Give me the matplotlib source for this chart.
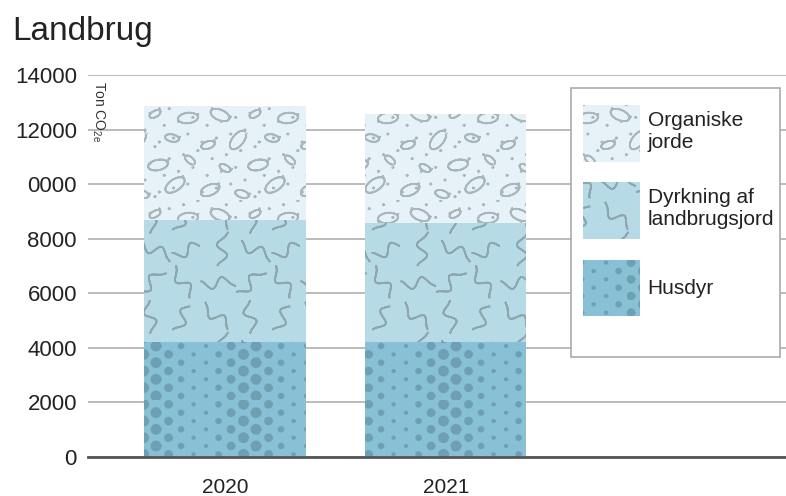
#!/usr/bin/env python3
import warnings
import numpy as np
import matplotlib
matplotlib.use("Agg")
import matplotlib.pyplot as plt
import matplotlib.hatch as mhatch
from matplotlib.path import Path
from matplotlib.patches import Rectangle

warnings.filterwarnings("ignore")

# data
years = ["2020", "2021"]
husdyr = [4220, 4220]
dyrkning = [4460, 4340]
organiske = [4180, 4000]
series_labels = ["Organiske\njorde", "Dyrkning af\nlandbrugsjord", "Husdyr"]
ytick_vals = [0, 2000, 4000, 6000, 8000, 10000, 12000, 14000]
ytick_labels = ["0", "2000", "4000", "6000", "8000", "0000", "12000", "14000"]


# --- custom hatch patterns (unit tile = 1 inch) ---
def there_and_back(pts):
    # polyline traced forward and back so the hatch fill adds no area
    pts = np.asarray(pts)
    return np.vstack([pts, pts[::-1]])


def ellipse(cx, cy, a, b, ang, n=32):
    t = np.linspace(0, 2 * np.pi, n)
    x, y = a * np.cos(t), b * np.sin(t)
    c, s = np.cos(ang), np.sin(ang)
    return np.column_stack([cx + c * x - s * y, cy + s * x + c * y])


def squiggle(cx, cy, length, amp, ang, n=22):
    t = np.linspace(-0.5, 0.5, n)
    x = t * length
    y = amp * np.sin(t * 2 * np.pi * 1.4)
    c, s = np.cos(ang), np.sin(ang)
    return np.column_stack([cx + c * x - s * y, cy + s * x + c * y])


def blob(cx, cy, r, n=12):
    t = np.linspace(0, 2 * np.pi, n)
    return np.column_stack([cx + r * np.cos(t), cy + r * np.sin(t)])


def organic_shapes():
    shapes = []
    spots = [(0.10, 0.10, 0.4, 0.10), (0.42, 0.06, -0.3, 0.07),
             (0.75, 0.15, 0.6, 0.11), (0.25, 0.32, -0.5, 0.06),
             (0.58, 0.35, 0.2, 0.10), (0.90, 0.40, -0.7, 0.06),
             (0.08, 0.55, 0.3, 0.07), (0.38, 0.60, 0.9, 0.11),
             (0.72, 0.62, -0.2, 0.07), (0.20, 0.85, -0.4, 0.10),
             (0.55, 0.86, 0.5, 0.06), (0.88, 0.82, 0.1, 0.10)]
    for x, y, a, sz in spots:
        shapes.append(there_and_back(ellipse(x, y, sz, sz * 0.52, a)))
    for i in range(7):
        for j in range(6):
            x = (i / 7 + 0.05 * (j % 3) + 0.02) % 1
            y = (j / 6 + 0.04 * (i % 4) + 0.08) % 1
            shapes.append(blob(x, y, 0.006, 6))
    return shapes


def wave_shapes():
    shapes = []
    angs = [0.2, 1.6, 2.6, 0.9, -0.3, 1.9, 2.3, 0.5, 1.2]
    k = 0
    for i in range(3):
        for j in range(3):
            x = 0.17 + i * 0.33 + 0.05 * (j % 2)
            y = 0.17 + j * 0.33
            shapes.append(there_and_back(squiggle(x, y, 0.30, 0.05, angs[k])))
            k += 1
    return shapes


def dot_shapes():
    shapes = []
    for i in range(8):
        r = 0.012 + 0.04 * (1 - abs(i - 3.5) / 3.5)
        for j in range(6):
            x = i / 8 + 0.06
            y = j / 6 + 0.04 + (0.083 if i % 2 else 0)
            shapes.append(blob(x, y % 1, r))
    return shapes


class ShapeHatch(mhatch.HatchPatternBase):
    char = None
    shapes = []

    def __init__(self, hatch, density):
        self.on = self.char in hatch
        self.num_vertices = sum(len(s) for s in self.shapes) if self.on else 0

    def set_vertices_and_codes(self, vertices, codes):
        pos = 0
        for s in self.shapes:
            n = len(s)
            vertices[pos:pos + n] = s
            codes[pos:pos + n] = Path.LINETO
            codes[pos] = Path.MOVETO
            pos += n


class OrganicHatch(ShapeHatch):
    char = "e"
    shapes = organic_shapes()


class WaveHatch(ShapeHatch):
    char = "w"
    shapes = wave_shapes()


class DotHatch(ShapeHatch):
    char = "d"
    shapes = dot_shapes()


mhatch._hatch_types.extend([OrganicHatch, WaveHatch, DotHatch])

plt.rcParams["font.family"] = ["Liberation Sans", "DejaVu Sans"]
plt.rcParams["hatch.linewidth"] = 1.3
plt.rcParams["mathtext.default"] = "regular"

fig = plt.figure(figsize=(7.86, 4.96), dpi=100)
ax = fig.add_axes([88 / 786, 39 / 496, 698 / 786, 382 / 496])

x = np.arange(len(years))
w = 0.73
styles = [
    # (values, bottom, color, hatch, hatch color)
    (husdyr, None, "#88c0d6", "d", "#6f9fb2"),
    (dyrkning, husdyr, "#b7dae7", "w", "#8ea6ae"),
    (organiske, np.add(husdyr, dyrkning), "#e6f2f7", "e", "#a9b6ba"),
]
for vals, bot, col, hat, hcol in styles:
    ax.bar(x, vals, w, bottom=bot, color=col, hatch=hat, edgecolor=hcol,
           linewidth=0, zorder=2)

ax.set_xlim(-0.62, 2.54)
ax.set_ylim(0, 14000)
ax.set_yticks(ytick_vals)
ax.set_yticklabels(ytick_labels)
ax.set_xticks(x)
ax.set_xticklabels(years)
ax.tick_params(axis="y", length=0, pad=8, labelsize=16, colors="#222222")
ax.tick_params(axis="x", length=0, pad=15, labelsize=15, colors="#222222")
ax.grid(axis="y", color="#bbbbbb", linewidth=1.4, zorder=0)
for sp in ["top", "right", "left"]:
    ax.spines[sp].set_visible(False)
ax.spines["bottom"].set_color("#555555")
ax.spines["bottom"].set_linewidth(2)
ax.spines["bottom"].set_zorder(3)

ax.text(0.003, 0.985, "Ton CO$_{2e}$", transform=ax.transAxes, rotation=270,
        va="top", ha="left", fontsize=10, color="#333333")

fig.text(12 / 786, 1 - 40 / 496, "Landbrug", fontsize=24, color="#222222")

# legend: frame drawn separately so its size matches the original box
frame = Rectangle((571 / 786, 1 - 357 / 496), 209 / 786, 269 / 496,
                  transform=fig.transFigure, facecolor="white",
                  edgecolor="#aaaaaa", linewidth=1.2, zorder=4)
fig.add_artist(frame)
handles = [Rectangle((0, 0), 1, 1, facecolor=c, hatch=h, edgecolor=hc, linewidth=0)
           for _, _, c, h, hc in styles[::-1]]
leg = fig.legend(handles, series_labels, loc="upper left",
                 bbox_to_anchor=(583 / 786, 1 - 105 / 496), fontsize=15,
                 frameon=False, handlelength=2.75, handleheight=3.8,
                 handletextpad=0.35, labelspacing=1.0, borderpad=0,
                 borderaxespad=0)
leg.set_zorder(5)
for t in leg.get_texts():
    t.set_color("#222222")

fig.savefig("out.png", dpi=100)
